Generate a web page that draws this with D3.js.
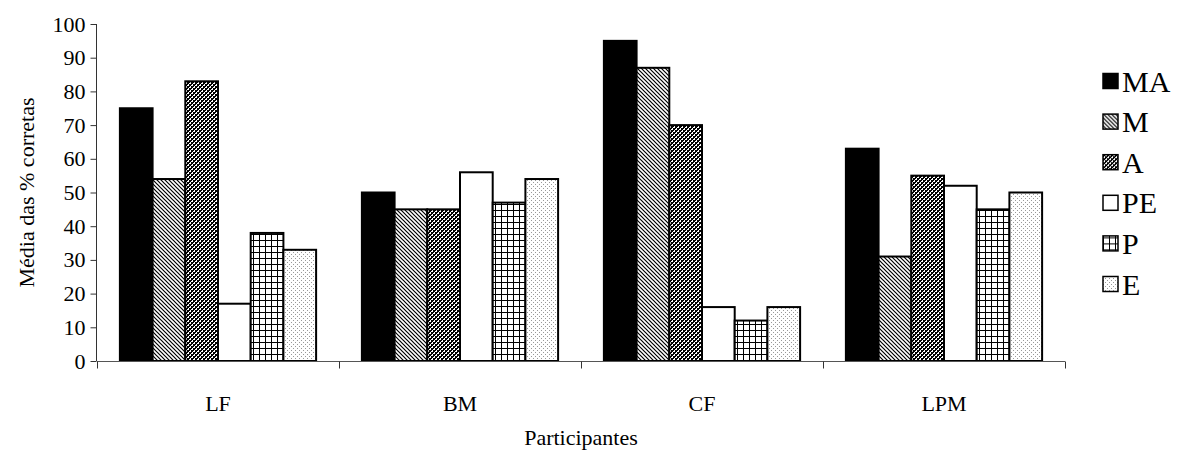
<!DOCTYPE html>
<html>
<head>
<meta charset="utf-8">
<script src="https://cdn.jsdelivr.net/npm/d3@7/dist/d3.min.js"></script>
<style>
  html, body { margin: 0; padding: 0; background: #fff; }
  svg text { font-family: "Liberation Serif", "Times New Roman", Times, serif !important; fill: #000; }
</style>
</head>
<body>
<svg id="chart" width="1178" height="456"></svg>
<script>
// Participants on the x axis
const participants = ["LF", "BM", "CF", "LPM"];
// Conditions (legend series)
const conditions = ["MA", "M", "A", "PE", "P", "E"];
// Mean % correct, one array per condition, ordered as participants
const valuesMA = [75, 50, 95, 63];
const valuesM  = [54, 45, 87, 31];
const valuesA  = [83, 45, 70, 55];
const valuesPE = [17, 56, 16, 52];
const valuesP  = [38, 47, 12, 45];
const valuesE  = [33, 54, 16, 50];
const yTicks = [0, 10, 20, 30, 40, 50, 60, 70, 80, 90, 100];

const seriesValues = { MA: valuesMA, M: valuesM, A: valuesA, PE: valuesPE, P: valuesP, E: valuesE };

const svg = d3.select("#chart");
const defs = svg.append("defs");

// Fill patterns for each condition
function pattern(id, w, h) {
  const p = defs.append("pattern")
    .attr("id", id).attr("patternUnits", "userSpaceOnUse")
    .attr("width", w).attr("height", h);
  p.append("rect").attr("width", w).attr("height", h).attr("fill", "#fff");
  return p;
}
// diagonal hatch (top-left to bottom-right)
const pM = pattern("pat-M", 4, 4);
pM.append("path").attr("d", "M-1,3 L1,5 M0,0 L4,4 M3,-1 L5,1")
  .attr("stroke", "#000").attr("stroke-width", 1.2);
// small checkerboard
const pA = pattern("pat-A", 4, 4);
pA.append("rect").attr("x", 0).attr("y", 0).attr("width", 2).attr("height", 2).attr("fill", "#000");
pA.append("rect").attr("x", 2).attr("y", 2).attr("width", 2).attr("height", 2).attr("fill", "#000");
pA.append("rect").attr("x", 2).attr("y", 0).attr("width", 1).attr("height", 1).attr("fill", "#000");
pA.append("rect").attr("x", 0).attr("y", 2).attr("width", 1).attr("height", 1).attr("fill", "#000");
// grid
const pP = pattern("pat-P", 6, 6);
pP.append("rect").attr("x", 0).attr("y", 0).attr("width", 6).attr("height", 1).attr("fill", "#000");
pP.append("rect").attr("x", 0).attr("y", 0).attr("width", 1).attr("height", 6).attr("fill", "#000");
// sparse dots
const pE = pattern("pat-E", 4, 4);
pE.append("rect").attr("x", 0).attr("y", 0).attr("width", 1).attr("height", 1).attr("fill", "#999");
pE.append("rect").attr("x", 2).attr("y", 2).attr("width", 1).attr("height", 1).attr("fill", "#999");

const fills = { MA: "#000", M: "url(#pat-M)", A: "url(#pat-A)", PE: "#fff", P: "url(#pat-P)", E: "url(#pat-E)" };

// Plot area
const plotLeft = 97, plotRight = 1065, plotTop = 24, plotBottom = 361;

const x0 = d3.scaleBand().domain(participants).range([plotLeft, plotRight]).paddingInner(0).paddingOuter(0);
const x1 = d3.scaleBand().domain(conditions).range([0, x0.bandwidth()]).paddingInner(0).paddingOuter(0.7);
const y = d3.scaleLinear().domain([0, 100]).range([plotBottom, plotTop]);

// Bars
const groups = svg.append("g").selectAll("g")
  .data(participants)
  .join("g")
  .attr("transform", d => `translate(${x0(d)},0)`);

groups.selectAll("rect")
  .data((p, i) => conditions.map(c => ({ c, v: seriesValues[c][i] })))
  .join("rect")
  .attr("x", d => x1(d.c))
  .attr("y", d => y(d.v))
  .attr("width", x1.bandwidth())
  .attr("height", d => y(0) - y(d.v))
  .attr("fill", d => fills[d.c])
  .attr("stroke", "#000")
  .attr("stroke-width", 2);

// Y axis
const yAxis = svg.append("g")
  .attr("transform", `translate(${plotLeft - 0.5},0)`)
  .call(d3.axisLeft(y).tickValues(yTicks).tickSize(6).tickPadding(5).tickFormat(d3.format("d")));
yAxis.select(".domain").attr("stroke", "#333").attr("d", `M0,${plotTop}V${plotBottom}`);
yAxis.selectAll(".tick line").attr("stroke", "#333");
yAxis.selectAll("text").attr("font-size", 22);

// X axis: ticks on category boundaries
const xAxisG = svg.append("g").attr("transform", `translate(0,${plotBottom + 0.5})`);
xAxisG.append("line").attr("x1", plotLeft).attr("x2", plotRight).attr("stroke", "#555");
const boundaries = participants.map(p => x0(p)).concat([x0(participants[participants.length - 1]) + x0.bandwidth()]);
xAxisG.selectAll("line.tk").data(boundaries).join("line").attr("class", "tk")
  .attr("x1", d => Math.round(d) + 0.5).attr("x2", d => Math.round(d) + 0.5)
  .attr("y1", 0).attr("y2", 7).attr("stroke", "#333");
xAxisG.selectAll("text").data(participants).join("text")
  .attr("x", d => x0(d) + x0.bandwidth() / 2)
  .attr("y", 49)
  .attr("text-anchor", "middle")
  .attr("font-size", 22)
  .text(d => d);

// Axis titles
svg.append("text")
  .attr("x", (plotLeft + plotRight) / 2).attr("y", 445)
  .attr("text-anchor", "middle").attr("font-size", 22)
  .text("Participantes");
svg.append("text")
  .attr("transform", `translate(34,${(plotTop + plotBottom) / 2}) rotate(-90)`)
  .attr("text-anchor", "middle").attr("font-size", 22)
  .text("Média das % corretas");

// Legend
const legend = svg.append("g").selectAll("g")
  .data(conditions).join("g")
  .attr("transform", (d, i) => `translate(1103,${81 + i * 40.6})`);
legend.append("rect")
  .attr("x", 0).attr("y", -7.5).attr("width", 15).attr("height", 15)
  .attr("fill", d => fills[d]).attr("stroke", "#000").attr("stroke-width", 1.5);
legend.append("text")
  .attr("x", 19).attr("y", 10.5)
  .attr("font-size", 30)
  .text(d => d);
</script>
</body>
</html>
